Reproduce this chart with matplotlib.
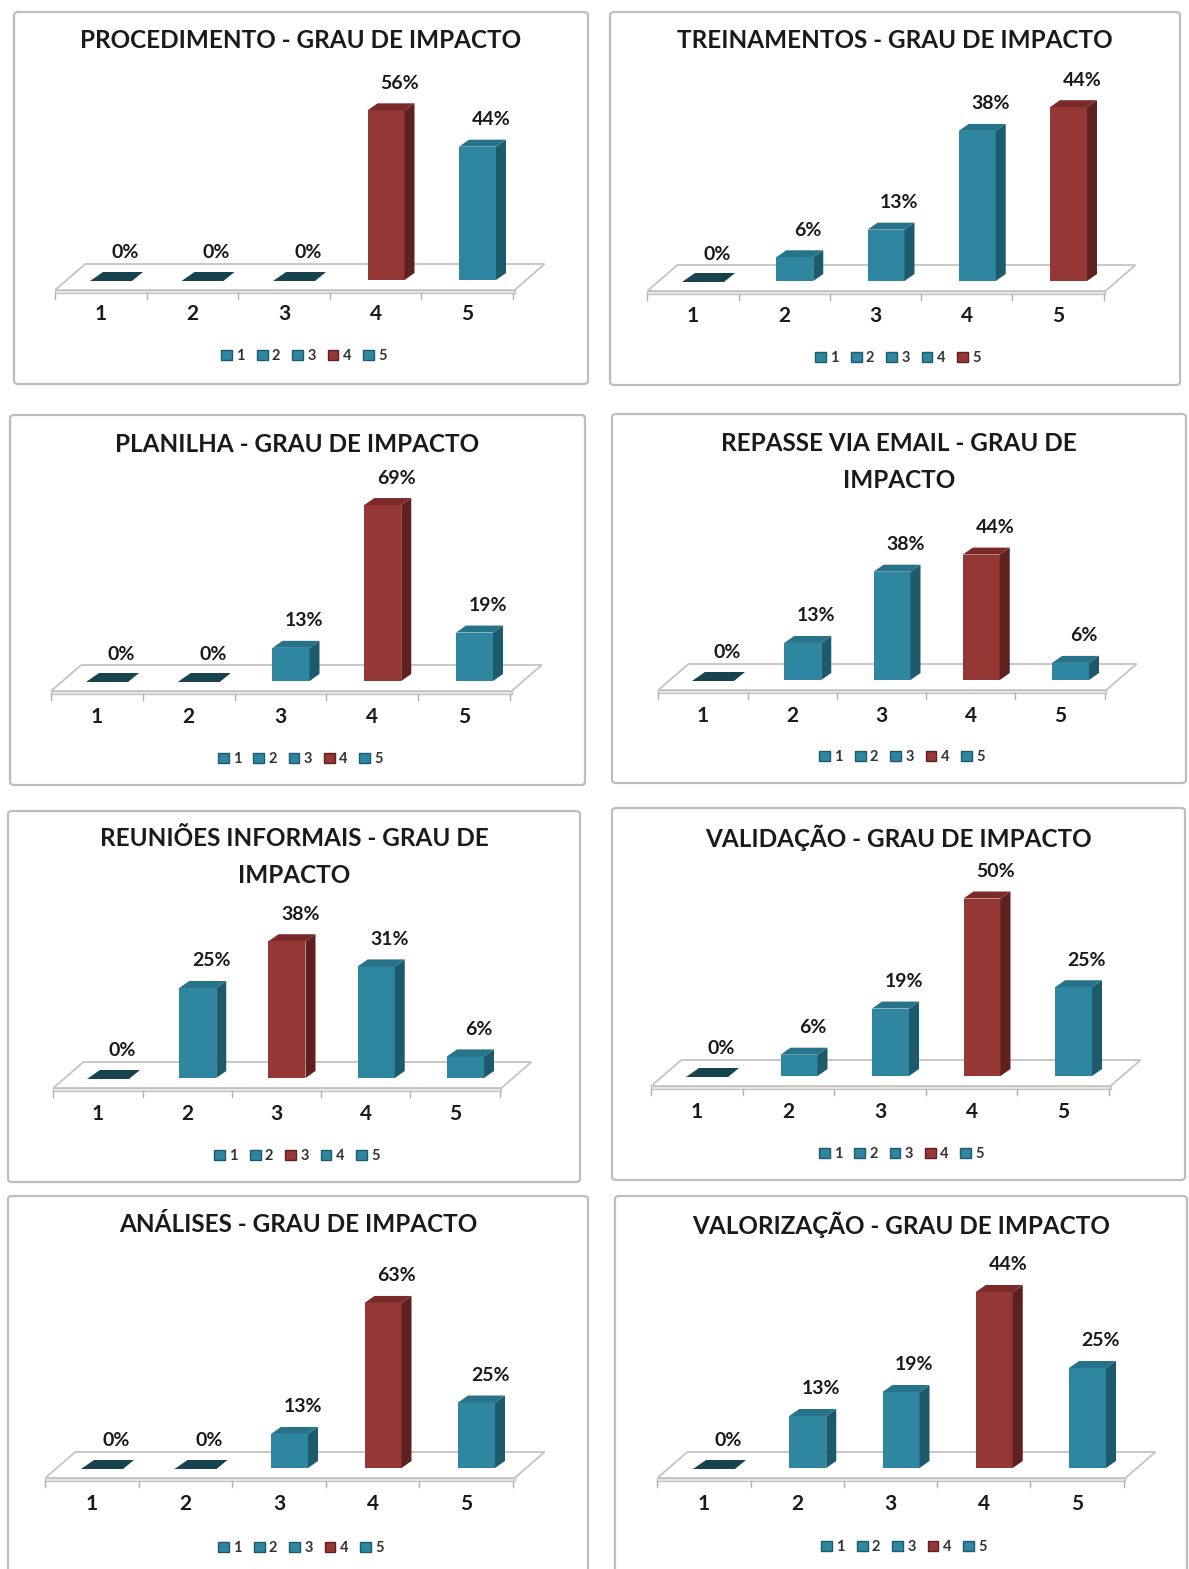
import numpy as np
import matplotlib.pyplot as plt
from matplotlib.patches import Polygon, FancyBboxPatch, Patch

W, H = 1189, 1569
plt.rcParams['font.family'] = ['Lato', 'DejaVu Sans']

cats = ['1', '2', '3', '4', '5']

titles = [
    'PROCEDIMENTO - GRAU DE IMPACTO',
    'TREINAMENTOS - GRAU DE IMPACTO',
    'PLANILHA - GRAU DE IMPACTO',
    'REPASSE VIA EMAIL - GRAU DE\nIMPACTO',
    'REUNIÕES INFORMAIS - GRAU DE\nIMPACTO',
    'VALIDAÇÃO - GRAU DE IMPACTO',
    'ANÁLISES - GRAU DE IMPACTO',
    'VALORIZAÇÃO - GRAU DE IMPACTO',
]
procedimento = [0, 0, 0, 56, 44]
treinamentos = [0, 6, 13, 38, 44]
planilha = [0, 0, 13, 69, 19]
repasse_email = [0, 13, 38, 44, 6]
reunioes = [0, 25, 38, 31, 6]
validacao = [0, 6, 19, 50, 25]
analises = [0, 0, 13, 63, 25]
valorizacao = [0, 13, 19, 44, 25]
values = [procedimento, treinamentos, planilha, repasse_email,
          reunioes, validacao, analises, valorizacao]
# index of the red category in each chart
highlight = [3, 4, 3, 3, 2, 3, 3, 3]

# layout in pixels: box (L, T, R, B), x of cat 1, spacing, floor y, px per %,
# title y, category label y, legend y
layout = [
    ((14, 12, 588, 384), 101, 91.5, 290, 3.03, 41, 314, 356),
    ((610, 12, 1180, 385), 693, 91.25, 291, 3.95, 41, 316, 358),
    ((10, 415, 585, 785), 97, 91.75, 691, 2.55, 444, 717, 759),
    ((612, 414, 1186, 783), 703, 89.25, 690, 2.85, 462, 716, 757),
    ((8, 811, 580, 1182), 98, 89.25, 1088, 3.6, 857, 1114, 1156),
    ((612, 808, 1185, 1180), 697, 91.5, 1086, 3.55, 838, 1112, 1154),
    ((8, 1196, 588, 1585), 92, 93.5, 1478, 2.62, 1225, 1504, 1548),
    ((615, 1196, 1187, 1585), 704, 93.25, 1478, 4.0, 1225, 1504, 1547),
]

teal = ('#2e86a0', '#1d5a6b', '#27738a')
red = ('#953735', '#5f2120', '#7b2a29')
zero_col = '#17434f'

fig = plt.figure(figsize=(W / 100, H / 100), dpi=100)

for k in range(8):
    (L, T, R, B), cx1, sp, fy, ys, ty, cy, ly = layout[k]
    ax = fig.add_axes([L / W, 1 - B / H, (R - L) / W, (B - T) / H])
    ax.set_xlim(1 + (L - cx1) / sp, 1 + (R - cx1) / sp)
    ax.set_ylim((fy - B) / ys, (fy - T) / ys)
    ax.axis('off')

    def px(dx):
        return dx / sp

    def py(dy):
        return dy / ys

    ax.add_patch(FancyBboxPatch((0, 0), 1, 1, boxstyle='round,pad=0,rounding_size=0.008',
                                transform=ax.transAxes, fc='white', ec='#bdbdbd',
                                lw=1.6, clip_on=False, zorder=0))

    # floor plate
    fdx, fdy = px(30), py(26)
    x0, x1 = 0.5, 5.52
    th = py(3)
    ax.add_patch(Polygon([(x0, 0), (x1, 0), (x1, -th), (x0, -th)], closed=True,
                         fc='#ececec', ec='#c4c4c4', lw=1.0, zorder=1))
    ax.add_patch(Polygon([(x0, 0), (x1, 0), (x1 + fdx, fdy), (x0 + fdx, fdy)], closed=True,
                         fc='white', ec='#c4c4c4', lw=1.3, zorder=1))
    for b in np.arange(0.5, 6.0, 1.0):
        ax.plot([b, b], [-th, -th - py(6)], color='#b0b0b0', lw=1.0, zorder=1)

    # bars
    bw = px(37)
    bdx, bdy = px(10), py(7)
    for i, v in enumerate(values[k]):
        c = red if i == highlight[k] else teal
        xl = i + 1 - px(8)
        yb = py(10)
        yt = yb + v
        if v > 0:
            ax.add_patch(Polygon([(xl, yb), (xl + bw, yb), (xl + bw, yt), (xl, yt)],
                                 closed=True, fc=c[0], ec='none', zorder=3))
            ax.add_patch(Polygon([(xl + bw, yb), (xl + bw + bdx, yb + bdy),
                                  (xl + bw + bdx, yt + bdy), (xl + bw, yt)],
                                 closed=True, fc=c[1], ec='none', zorder=3))
            ax.add_patch(Polygon([(xl, yt), (xl + bw, yt), (xl + bw + bdx, yt + bdy),
                                  (xl + bdx, yt + bdy)], closed=True, fc=c[2], ec='none', zorder=3))
        else:
            ax.add_patch(Polygon([(xl - px(3), yt - py(1)), (xl + bw + px(2), yt - py(1)),
                                  (xl + bw + bdx + px(3), yt + bdy + py(1)),
                                  (xl + bdx, yt + bdy + py(1))],
                                 closed=True, fc=zero_col, ec='none', zorder=3))
        ax.text(i + 1 + px(24), yt + py(27), f'{v}%', ha='center', va='center',
                fontsize=14, fontweight='bold', color='#1a1a1a', zorder=4)
        ax.text(i + 1, (fy - cy) / ys, cats[i], ha='center', va='center',
                fontsize=15, fontweight='bold', color='#1a1a1a')

    tx = (L + R) / 2
    ax.text(1 + (tx - cx1) / sp, (fy - ty) / ys, titles[k], ha='center', va='center',
            fontsize=17.5, fontweight='bold', color='#1a1a1a', linespacing=1.7)

    handles = [Patch(fc=(red if i == highlight[k] else teal)[0], ec='#1d5a6b' if i != highlight[k] else '#5f2120')
               for i in range(5)]
    ax.legend(handles, cats, ncol=5, loc='center',
              bbox_to_anchor=(1 + (tx + 3 - cx1) / sp, (fy - ly) / ys),
              bbox_transform=ax.transData, frameon=False,
              prop={'size': 10.5, 'weight': 'bold'},
              handlelength=0.75, handleheight=0.75, handletextpad=0.3,
              columnspacing=0.8, labelcolor='#333333')

fig.savefig('out.png', dpi=100)
